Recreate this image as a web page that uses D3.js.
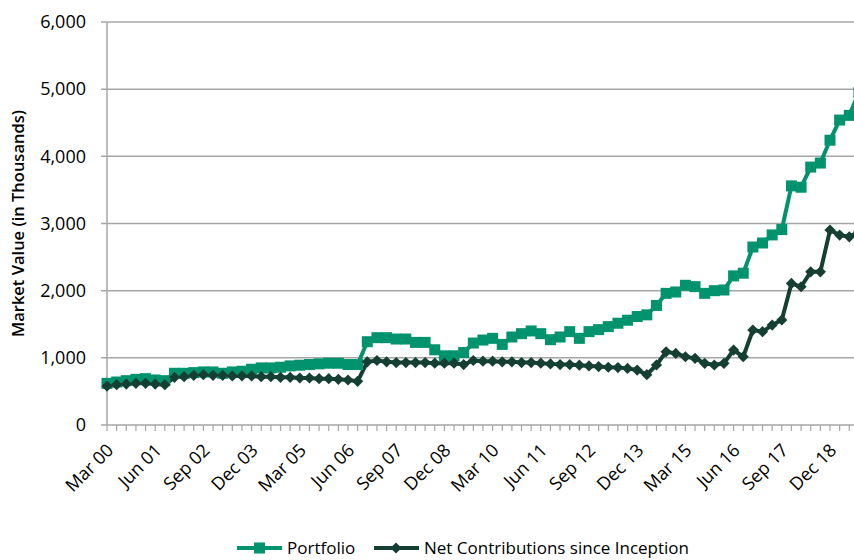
<!DOCTYPE html>
<html>
<head>
<meta charset="utf-8">
<script src="https://cdn.jsdelivr.net/npm/d3@7"></script>
<style>
  body { margin: 0; background: #fff; }
  text { font-family: "Open Sans", sans-serif; fill: #000; }
</style>
</head>
<body>
<div id="chart"></div>
<script>
// quarter ends, Mar 00 .. Sep 19
var months = ["Mar", "Jun", "Sep", "Dec"];
var years = ["00","01","02","03","04","05","06","07","08","09","10","11","12","13","14","15","16","17","18","19"];
var quarters = [];
years.forEach(function(y) {
  months.forEach(function(m) { quarters.push(m + " " + y); });
});
quarters = quarters.slice(0, 79);

var tickLabels = ["Mar 00", "Jun 01", "Sep 02", "Dec 03", "Mar 05", "Jun 06", "Sep 07", "Dec 08",
  "Mar 10", "Jun 11", "Sep 12", "Dec 13", "Mar 15", "Jun 16", "Sep 17", "Dec 18"];

var yTicks = [0, 1000, 2000, 3000, 4000, 5000, 6000];

// market value, thousands
var portfolio = [620, 640, 660, 680, 690, 670, 660, 770, 770, 780,
  790, 790, 770, 790, 800, 830, 850, 850, 860, 880,
  890, 900, 910, 920, 920, 900, 900, 1240, 1300, 1300,
  1280, 1280, 1230, 1230, 1120, 1030, 1030, 1080, 1220, 1265,
  1290, 1200, 1310, 1360, 1400, 1360, 1270, 1310, 1390, 1290,
  1390, 1420, 1465, 1515, 1560, 1615, 1640, 1780, 1960, 1980,
  2080, 2060, 1960, 2000, 2010, 2220, 2260, 2650, 2710, 2830,
  2910, 3560, 3540, 3840, 3900, 4240, 4540, 4610, 4950];

var contributions = [580, 600, 610, 620, 620, 610, 600, 710, 720, 740,
  750, 740, 740, 730, 730, 730, 720, 720, 710, 710,
  700, 700, 690, 690, 680, 670, 650, 940, 960, 940,
  930, 930, 930, 930, 920, 920, 920, 900, 960, 950,
  950, 940, 940, 930, 930, 920, 910, 900, 900, 890,
  880, 870, 860, 855, 843, 818, 750, 893, 1090, 1066,
  1016, 992, 918, 893, 918, 1116, 1016, 1414, 1389, 1488,
  1563, 2108, 2058, 2281, 2281, 2902, 2827, 2802, 2880];

var seriesNames = ["Portfolio", "Net Contributions since Inception"];
var colors = ["#00936d", "#163f34"];

var width = 854, height = 560;
var margin = {top: 22, left: 107, bottom: 135};

var svg = d3.select("#chart")
  .append("svg")
  .attr("width", width)
  .attr("height", height);

var x = d3.scalePoint()
  .domain(quarters)
  .range([margin.left, margin.left + 78 * 9.64]);

var y = d3.scaleLinear()
  .domain([0, 6000])
  .range([height - margin.bottom, margin.top]);

// gridlines
svg.append("g")
  .selectAll("line")
  .data(yTicks)
  .enter()
  .append("line")
    .attr("x1", margin.left - 6)
    .attr("x2", width)
    .attr("y1", function(d) { return y(d); })
    .attr("y2", function(d) { return y(d); })
    .style("stroke", "#a6a6a6")
    .style("stroke-width", 1.5);

// y axis line
svg.append("line")
  .attr("x1", margin.left).attr("x2", margin.left)
  .attr("y1", y(6000)).attr("y2", y(0))
  .style("stroke", "#a6a6a6")
  .style("stroke-width", 1.5);

// x ticks
svg.append("g")
  .selectAll("line")
  .data(quarters)
  .enter()
  .append("line")
    .attr("x1", function(d) { return x(d); })
    .attr("x2", function(d) { return x(d); })
    .attr("y1", y(0))
    .attr("y2", y(0) + 6)
    .style("stroke", "#a6a6a6")
    .style("stroke-width", 1.2);

// y labels
svg.append("g")
  .selectAll("text")
  .data(yTicks)
  .enter()
  .append("text")
    .attr("x", 86)
    .attr("y", function(d) { return y(d); })
    .attr("dy", "0.35em")
    .attr("text-anchor", "end")
    .style("font-size", "18px")
    .text(function(d) { return d3.format(",")(d); });

// x labels
svg.append("g")
  .selectAll("text")
  .data(tickLabels)
  .enter()
  .append("text")
    .attr("transform", function(d) { return "translate(" + (x(d) + 3) + "," + (y(0) + 22) + ") rotate(-45)"; })
    .attr("text-anchor", "end")
    .attr("dy", "0.35em")
    .style("font-size", "18px")
    .text(function(d) { return d; });

// y title
svg.append("text")
  .attr("transform", "translate(24," + ((y(0) + y(6000)) / 2) + ") rotate(-90)")
  .attr("text-anchor", "middle")
  .style("font-size", "16.5px")
  .style("font-weight", "600")
  .text("Market Value (in Thousands)");

var line = d3.line()
  .x(function(d, i) { return x(quarters[i]); })
  .y(function(d) { return y(d); });

var series = [portfolio, contributions];

series.forEach(function(vals, k) {
  svg.append("path")
    .datum(vals)
    .attr("d", line)
    .style("fill", "none")
    .style("stroke", colors[k])
    .style("stroke-width", 4)
    .style("stroke-linejoin", "round");
});

// markers
svg.append("g")
  .selectAll("rect")
  .data(portfolio)
  .enter()
  .append("rect")
    .attr("x", function(d, i) { return x(quarters[i]) - 5.5; })
    .attr("y", function(d) { return y(d) - 5.5; })
    .attr("width", 11)
    .attr("height", 11)
    .style("fill", colors[0]);

var diamond = d3.symbol().type(d3.symbolDiamond2).size(80);
svg.append("g")
  .selectAll("path")
  .data(contributions)
  .enter()
  .append("path")
    .attr("d", diamond)
    .attr("transform", function(d, i) { return "translate(" + x(quarters[i]) + "," + y(d) + ")"; })
    .style("fill", colors[1]);

// legend
var legend = svg.append("g");
var lx = [237, 374];
seriesNames.forEach(function(name, k) {
  legend.append("line")
    .attr("x1", lx[k]).attr("x2", lx[k] + 45)
    .attr("y1", 548).attr("y2", 548)
    .style("stroke", colors[k])
    .style("stroke-width", 4);
  if (k == 0) {
    legend.append("rect")
      .attr("x", lx[k] + 17).attr("y", 542.5)
      .attr("width", 11).attr("height", 11)
      .style("fill", colors[k]);
  } else {
    legend.append("path")
      .attr("d", diamond)
      .attr("transform", "translate(" + (lx[k] + 22) + ",548)")
      .style("fill", colors[k]);
  }
  legend.append("text")
    .attr("x", lx[k] + 50)
    .attr("y", 548)
    .attr("dy", "0.35em")
    .style("font-size", "17px")
    .text(name);
});
</script>
</body>
</html>
